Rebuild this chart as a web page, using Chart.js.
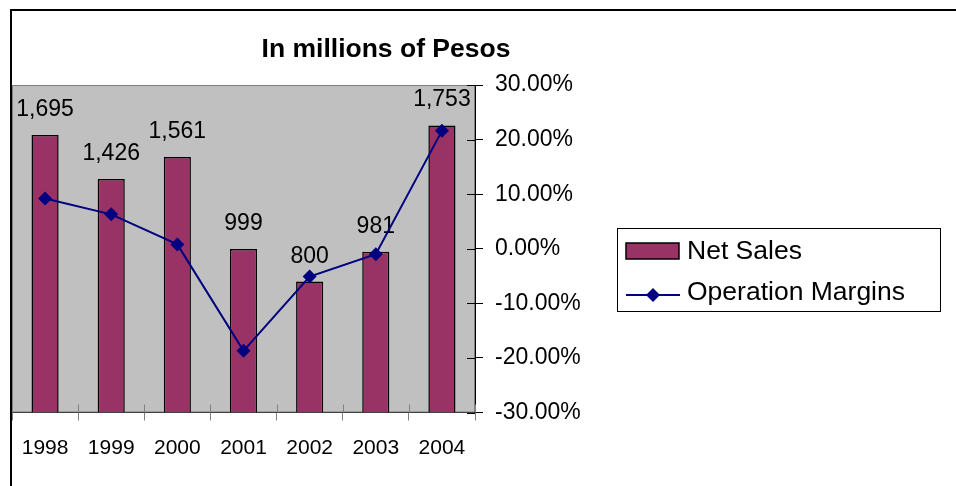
<!DOCTYPE html>
<html>
<head>
<meta charset="utf-8">
<script src="https://cdn.jsdelivr.net/npm/chart.js@4/dist/chart.umd.min.js"></script>
<style>
  html, body { margin: 0; padding: 0; background: #fff; }
  canvas { display: block; }
</style>
</head>
<body>
<canvas id="myChart" width="956" height="486"></canvas>
<script>
const years = ['1998', '1999', '2000', '2001', '2002', '2003', '2004'];
const netSales = [1695, 1426, 1561, 999, 800, 981, 1753];
const opMargins = [9.2, 6.3, 0.8, -18.7, -5.1, -1.0, 21.6];
const marginTicks = [-30, -20, -10, 0, 10, 20, 30];

const FONT = '"Liberation Sans", Arial, sans-serif';

// frame, gray plot area, title, value labels, legend box
const decor = {
    id: 'decor',
    beforeDraw(chart) {
        const ctx = chart.ctx;
        const a = chart.chartArea;
        ctx.save();
        ctx.fillStyle = '#c0c0c0';
        ctx.fillRect(a.left, a.top, a.right - a.left, a.bottom - a.top);
        ctx.strokeStyle = '#808080';
        ctx.lineWidth = 1;
        ctx.strokeRect(a.left + 0.5, a.top + 0.5, a.right - a.left - 1, a.bottom - a.top - 1);
        ctx.restore();
    },
    afterDatasetDraw(chart, args) {
        if (args.index !== 0) return;
        const ctx = chart.ctx;
        const meta = chart.getDatasetMeta(0);
        ctx.save();
        ctx.font = '23px ' + FONT;
        ctx.fillStyle = '#000';
        ctx.textAlign = 'center';
        ctx.textBaseline = 'alphabetic';
        meta.data.forEach((bar, i) => {
            ctx.fillText(netSales[i].toLocaleString('en-US'), bar.x, bar.y - 19);
        });
        ctx.restore();
    },
    afterDraw(chart) {
        const ctx = chart.ctx;
        const a = chart.chartArea;
        ctx.save();

        // little inner halves of the tick marks
        const xs = chart.scales.x;
        const step = (xs.right - xs.left) / years.length;
        ctx.strokeStyle = '#808080';
        ctx.lineWidth = 1;
        for (let i = 0; i <= years.length; i++) {
            const x = Math.round(xs.left + i * step) + 0.5;
            ctx.beginPath();
            ctx.moveTo(x, a.bottom - 8);
            ctx.lineTo(x, a.bottom);
            ctx.stroke();
        }
        const y1 = chart.scales.y1;
        ctx.strokeStyle = '#000';
        marginTicks.forEach(v => {
            const y = Math.round(y1.getPixelForValue(v)) + 0.5;
            ctx.beginPath();
            ctx.moveTo(a.right - 8, y);
            ctx.lineTo(a.right, y);
            ctx.stroke();
        });

        // outer frame
        ctx.strokeStyle = '#000';
        ctx.lineWidth = 2;
        ctx.beginPath();
        ctx.moveTo(11, 490);
        ctx.lineTo(11, 10);
        ctx.lineTo(960, 10);
        ctx.stroke();

        // title
        ctx.fillStyle = '#000';
        ctx.font = 'bold 26.5px ' + FONT;
        ctx.textAlign = 'center';
        ctx.textBaseline = 'alphabetic';
        ctx.fillText('In millions of Pesos', 386, 57);

        // legend
        ctx.lineWidth = 1;
        ctx.strokeRect(617.5, 228.5, 323, 83);
        ctx.fillStyle = '#993366';
        ctx.fillRect(626, 243, 53, 16);
        ctx.lineWidth = 1.5;
        ctx.strokeRect(626, 243, 53, 16);
        ctx.strokeStyle = '#000080';
        ctx.lineWidth = 2;
        ctx.beginPath();
        ctx.moveTo(626, 295);
        ctx.lineTo(680, 295);
        ctx.stroke();
        ctx.fillStyle = '#000080';
        ctx.beginPath();
        ctx.moveTo(653, 288);
        ctx.lineTo(660, 295);
        ctx.lineTo(653, 302);
        ctx.lineTo(646, 295);
        ctx.closePath();
        ctx.fill();
        ctx.fillStyle = '#000';
        ctx.font = '26.5px ' + FONT;
        ctx.textAlign = 'left';
        ctx.fillText('Net Sales', 687, 259);
        ctx.fillText('Operation Margins', 687, 300);

        ctx.restore();
    }
};

const ctx = document.getElementById('myChart').getContext('2d');
const myChart = new Chart(ctx, {
    type: 'bar',
    data: {
        labels: years,
        datasets: [{
            type: 'bar',
            label: 'Net Sales',
            data: netSales,
            backgroundColor: '#993366',
            borderColor: '#000',
            borderWidth: 1.5,
            barPercentage: 0.41,
            categoryPercentage: 1,
            yAxisID: 'y',
            order: 1
        }, {
            type: 'line',
            label: 'Operation Margins',
            data: opMargins,
            borderColor: '#000080',
            borderWidth: 2,
            pointStyle: 'rectRot',
            pointRadius: 7,
            pointBackgroundColor: '#000080',
            pointBorderColor: '#000080',
            pointBorderWidth: 0,
            tension: 0,
            fill: false,
            yAxisID: 'y1',
            order: 0
        }]
    },
    options: {
        responsive: false,
        animation: false,
        devicePixelRatio: 1,
        layout: { padding: { left: 12, top: 85, right: 0, bottom: 0 } },
        plugins: {
            legend: { display: false },
            title: { display: false },
            tooltip: { enabled: false }
        },
        scales: {
            x: {
                offset: true,
                grid: {
                    offset: true,
                    drawOnChartArea: false,
                    drawTicks: true,
                    tickLength: 8,
                    color: '#808080'
                },
                border: { display: true, color: '#404040', width: 1 },
                ticks: {
                    color: '#000',
                    padding: 15,
                    font: { family: FONT, size: 21 }
                },
                afterFit(scale) { scale.height = 73.5; }
            },
            y: {
                display: false,
                position: 'left',
                min: 0,
                max: 2000
            },
            y1: {
                position: 'right',
                min: -30,
                max: 30,
                grid: {
                    drawOnChartArea: false,
                    drawTicks: true,
                    tickLength: 8,
                    color: '#000'
                },
                border: { display: true, color: '#000', width: 1 },
                afterBuildTicks(scale) {
                    scale.ticks = marginTicks.map(v => ({ value: v }));
                },
                ticks: {
                    color: '#000',
                    padding: 12,
                    font: { family: FONT, size: 23 },
                    callback: v => v.toFixed(2) + '%'
                },
                afterFit(scale) { scale.width = 481; }
            }
        }
    },
    plugins: [decor]
});
</script>
</body>
</html>
